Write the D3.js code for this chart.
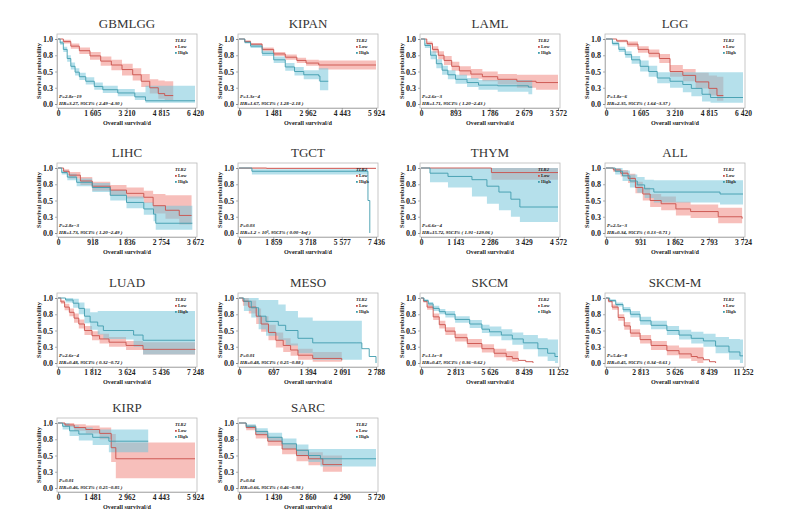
<!DOCTYPE html>
<html>
<head>
<meta charset="utf-8">
<script src="https://cdn.jsdelivr.net/npm/d3@7"></script>
<style>
  body { margin: 0; background: #fff; }
  text { font-family: "Liberation Serif", "DejaVu Serif", serif; }
</style>
</head>
<body>
<svg id="chart"></svg>
<script>
// cohorts, in reading order
const cancers = ["GBMLGG", "KIPAN", "LAML", "LGG", "LIHC", "TGCT", "THYM", "ALL",
                 "LUAD", "MESO", "SKCM", "SKCM-M", "KIRP", "SARC"];
const xMaxDays = [6420, 5924, 3572, 6420, 3672, 7436, 4572, 3724, 7248, 2788, 11252, 11252, 5924, 5720];
const pLabels = ["P=2.8e−19", "P=1.3e−4", "P=2.6e−3", "P=1.8e−6", "P=2.8e−3", "P=0.03", "P=6.6e−4",
                 "P=2.5e−3", "P=2.6e−4", "P=0.01", "P=1.1e−8", "P=5.4e−8", "P=0.01", "P=0.04"];
const hrLabels = [
  "HR=3.27, 95CI% ( 2.49−4.30 )", "HR=1.67, 95CI% ( 1.28−2.18 )", "HR=1.71, 95CI% ( 1.20−2.43 )",
  "HR=2.35, 95CI% ( 1.64−3.37 )", "HR=1.73, 95CI% ( 1.20−2.49 )", "HR=1.2 × 10⁹, 95CI% ( 0.00−Inf )",
  "HR=15.72, 95CI% ( 1.91−129.06 )", "HR=0.34, 95CI% ( 0.13−0.71 )", "HR=0.48, 95CI% ( 0.32−0.72 )",
  "HR=0.48, 95CI% ( 0.25−0.88 )", "HR=0.47, 95CI% ( 0.36−0.62 )", "HR=0.45, 95CI% ( 0.34−0.61 )",
  "HR=0.46, 95CI% ( 0.25−0.85 )", "HR=0.66, 95CI% ( 0.46−0.98 )"];
const groups = ["Low", "High"];
const yTickValues = [0, 0.25, 0.5, 0.75, 1];
const yTickLabels = ["0.0", "0.3", "0.5", "0.8", "1.0"];

// [day, survival, lower 95%, upper 95%]
const lowCurves = [
  [[0,1,1,1],[250,0.96,0.93,0.99],[600,0.89,0.85,0.93],[1000,0.82,0.77,0.87],[1500,0.74,0.68,0.8],[2000,0.66,0.59,0.73],[2500,0.6,0.52,0.68],[3000,0.53,0.44,0.62],[3500,0.45,0.36,0.55],[3900,0.35,0.26,0.46],[4300,0.25,0.16,0.38],[4700,0.16,0.08,0.36],[5000,0.13,0.06,0.35],[5400,0.13,0.06,0.35]],
  [[0,1,1,1],[250,0.96,0.94,0.98],[500,0.92,0.9,0.94],[1000,0.84,0.81,0.87],[1500,0.77,0.74,0.8],[2000,0.72,0.68,0.76],[2500,0.67,0.63,0.71],[2900,0.63,0.59,0.68],[3450,0.6,0.53,0.67],[5924,0.6,0.53,0.67]],
  [[0,1,1,1],[150,0.93,0.9,0.96],[300,0.84,0.79,0.89],[450,0.75,0.69,0.81],[600,0.67,0.6,0.74],[800,0.58,0.51,0.65],[1000,0.51,0.44,0.58],[1300,0.46,0.39,0.54],[1600,0.42,0.35,0.5],[2000,0.38,0.3,0.46],[2500,0.35,0.25,0.45],[3000,0.33,0.22,0.45],[3572,0.33,0.22,0.45]],
  [[0,1,1,1],[500,0.97,0.95,0.99],[1000,0.92,0.88,0.96],[1500,0.84,0.79,0.89],[2000,0.78,0.72,0.84],[2500,0.7,0.63,0.77],[3000,0.5,0.42,0.6],[3600,0.44,0.35,0.54],[4200,0.34,0.24,0.48],[4815,0.24,0.13,0.44],[5200,0.13,0.05,0.42],[5500,0.13,0.05,0.42]],
  [[0,1,1,1],[150,0.95,0.92,0.98],[300,0.89,0.84,0.94],[600,0.8,0.74,0.86],[918,0.72,0.65,0.79],[1400,0.66,0.58,0.74],[1836,0.61,0.53,0.7],[2300,0.55,0.46,0.65],[2550,0.42,0.3,0.6],[2880,0.35,0.22,0.58],[3250,0.27,0.13,0.58],[3580,0.27,0.13,0.58]],
  [[0,1,0.99,1],[1500,0.995,0.985,1],[7436,0.995,0.985,1]],
  [[0,1,1,1],[2350,0.93,0.82,1],[4572,0.93,0.82,1]],
  [[0,1,1,1],[200,0.97,0.94,1],[400,0.92,0.87,0.97],[600,0.84,0.77,0.91],[800,0.7,0.61,0.79],[1000,0.6,0.5,0.7],[1200,0.5,0.4,0.6],[1500,0.45,0.35,0.56],[1900,0.37,0.27,0.48],[2300,0.33,0.23,0.44],[3050,0.25,0.15,0.39],[3700,0.22,0.12,0.39]],
  [[0,1,1,1],[150,0.94,0.91,0.97],[350,0.86,0.81,0.91],[600,0.78,0.72,0.84],[850,0.69,0.62,0.76],[1100,0.6,0.53,0.67],[1400,0.5,0.43,0.57],[1800,0.42,0.35,0.49],[2200,0.37,0.3,0.45],[2700,0.32,0.25,0.4],[3600,0.27,0.2,0.34],[4500,0.21,0.13,0.32],[7248,0.2,0.13,0.32]],
  [[0,1,1,1],[80,0.95,0.88,1],[200,0.86,0.76,0.96],[350,0.72,0.6,0.84],[450,0.6,0.48,0.72],[600,0.47,0.35,0.59],[750,0.35,0.24,0.47],[900,0.27,0.17,0.38],[1050,0.2,0.11,0.3],[1200,0.12,0.05,0.22],[1500,0.07,0.02,0.17],[2091,0.04,0.01,0.14]],
  [[0,1,1,1],[200,0.95,0.93,0.97],[500,0.86,0.82,0.9],[1000,0.71,0.66,0.76],[1500,0.59,0.53,0.65],[2000,0.49,0.43,0.55],[2800,0.39,0.33,0.45],[3800,0.3,0.24,0.37],[5000,0.22,0.16,0.29],[6000,0.15,0.09,0.22],[7000,0.1,0.04,0.18],[7500,0.07,0.02,0.18],[8000,0.04,0.04,0.04],[8600,0.02,0.02,0.02],[9200,0,0,0]],
  [[0,1,1,1],[200,0.95,0.93,0.97],[500,0.86,0.82,0.9],[1000,0.7,0.65,0.75],[1500,0.57,0.51,0.63],[2000,0.46,0.4,0.52],[2800,0.36,0.3,0.43],[3700,0.27,0.2,0.34],[5000,0.19,0.12,0.27],[6000,0.14,0.07,0.24],[7000,0.1,0.03,0.24],[7500,0.08,0,0.24],[8000,0.05,0.05,0.05],[8500,0.02,0.02,0.02],[9000,0,0,0]],
  [[0,1,1,1],[300,0.97,0.94,1],[700,0.93,0.88,0.98],[1200,0.9,0.84,0.96],[1800,0.84,0.75,0.93],[2300,0.62,0.4,0.83],[2500,0.45,0.15,0.7],[5924,0.45,0.15,0.7]],
  [[0,1,1,1],[300,0.93,0.89,0.97],[700,0.82,0.76,0.88],[1200,0.72,0.65,0.79],[1800,0.6,0.52,0.68],[2400,0.5,0.41,0.6],[2900,0.45,0.35,0.55],[3500,0.36,0.25,0.5],[4300,0.36,0.25,0.5]]
];
const highCurves = [
  [[0,1,1,1],[100,0.94,0.91,0.97],[250,0.84,0.8,0.88],[430,0.7,0.65,0.75],[600,0.58,0.53,0.64],[800,0.49,0.44,0.55],[1000,0.42,0.37,0.48],[1300,0.35,0.3,0.41],[1700,0.27,0.22,0.33],[2100,0.22,0.17,0.28],[2800,0.17,0.12,0.23],[3600,0.11,0.06,0.18],[4100,0.05,0.02,0.28],[6420,0.05,0.02,0.28]],
  [[0,1,1,1],[250,0.95,0.93,0.97],[500,0.89,0.86,0.92],[1000,0.78,0.74,0.82],[1500,0.68,0.63,0.73],[2000,0.57,0.51,0.63],[2400,0.5,0.44,0.57],[2800,0.45,0.38,0.52],[3450,0.43,0.35,0.55],[3500,0.35,0.21,0.55],[3860,0.35,0.21,0.55]],
  [[0,1,1,1],[100,0.9,0.86,0.94],[250,0.75,0.69,0.81],[400,0.62,0.55,0.69],[550,0.52,0.45,0.59],[700,0.45,0.38,0.52],[900,0.38,0.31,0.45],[1200,0.33,0.26,0.4],[1500,0.29,0.22,0.37],[2000,0.28,0.19,0.37],[2800,0.26,0.15,0.37],[2900,0.26,0.15,0.37]],
  [[0,1,1,1],[300,0.93,0.9,0.96],[600,0.84,0.8,0.88],[900,0.76,0.71,0.81],[1200,0.68,0.62,0.74],[1600,0.58,0.5,0.67],[2000,0.5,0.42,0.59],[2400,0.4,0.32,0.49],[3000,0.35,0.25,0.49],[3600,0.3,0.18,0.49],[4000,0.24,0.12,0.49],[4500,0.15,0.04,0.49],[4900,0.1,0.02,0.49],[6420,0.1,0.02,0.49]],
  [[0,1,1,1],[100,0.93,0.9,0.96],[250,0.86,0.81,0.91],[500,0.78,0.72,0.84],[918,0.7,0.63,0.77],[1400,0.58,0.5,0.66],[1836,0.47,0.38,0.56],[2300,0.37,0.28,0.47],[2560,0.29,0.18,0.42],[2620,0.15,0.05,0.42],[3600,0.15,0.05,0.42]],
  [[0,1,1,1],[700,0.95,0.9,0.98],[6900,0.95,0.9,0.98],[7000,0.5,0.5,0.5],[7100,0,0,0]],
  [[0,1,1,1],[300,0.92,0.78,1],[900,0.87,0.7,1],[1700,0.82,0.56,1],[2200,0.72,0.45,1],[2600,0.63,0.35,1],[3000,0.52,0.25,1],[3300,0.4,0.17,1],[4572,0.4,0.17,1]],
  [[0,1,1,1],[250,0.95,0.9,1],[450,0.88,0.8,0.96],[650,0.8,0.7,0.9],[850,0.74,0.62,0.86],[1050,0.68,0.54,0.82],[1300,0.63,0.47,0.81],[3100,0.6,0.44,0.81],[3724,0.6,0.44,0.81]],
  [[0,1,1,1],[400,0.97,0.93,1],[800,0.92,0.85,0.99],[1100,0.84,0.75,0.93],[1400,0.72,0.61,0.84],[1700,0.63,0.51,0.78],[2100,0.57,0.44,0.8],[2400,0.5,0.37,0.8],[3600,0.5,0.36,0.8],[4000,0.43,0.25,0.8],[4500,0.35,0.13,0.8],[7248,0.35,0.13,0.8]],
  [[0,1,1,1],[100,0.95,0.8,1],[250,0.85,0.7,1],[400,0.72,0.52,0.97],[550,0.64,0.42,0.97],[800,0.58,0.35,0.9],[950,0.5,0.27,0.8],[1200,0.38,0.15,0.7],[1500,0.31,0.05,0.65],[2400,0.31,0.05,0.65],[2500,0.22,0.22,0.22],[2650,0.1,0.1,0.1],[2788,0,0,0]],
  [[0,1,1,1],[250,0.96,0.94,0.98],[600,0.91,0.88,0.94],[1000,0.84,0.8,0.88],[1500,0.79,0.75,0.83],[2000,0.75,0.7,0.8],[2800,0.67,0.62,0.72],[4000,0.6,0.54,0.66],[5000,0.52,0.46,0.59],[5626,0.48,0.41,0.56],[6600,0.43,0.35,0.52],[7500,0.37,0.28,0.47],[8400,0.31,0.21,0.43],[9600,0.22,0.1,0.38],[10400,0.15,0.03,0.36],[11000,0.1,0,0.36],[11252,0.1,0,0.36]],
  [[0,1,1,1],[300,0.96,0.94,0.98],[800,0.9,0.87,0.93],[1400,0.82,0.78,0.86],[2000,0.75,0.7,0.8],[2800,0.65,0.59,0.71],[3700,0.58,0.52,0.65],[5000,0.5,0.43,0.57],[6000,0.43,0.36,0.51],[7000,0.38,0.3,0.48],[8000,0.34,0.25,0.45],[9000,0.26,0.15,0.4],[10100,0.17,0.05,0.37],[11000,0.11,0,0.36],[11252,0.11,0,0.36]],
  [[0,1,1,1],[200,0.95,0.9,1],[500,0.88,0.8,0.96],[900,0.83,0.73,0.93],[1500,0.78,0.66,0.9],[2200,0.72,0.55,0.9],[3900,0.72,0.55,0.9]],
  [[0,1,1,1],[300,0.95,0.92,0.98],[700,0.87,0.82,0.92],[1200,0.78,0.72,0.85],[1800,0.68,0.6,0.76],[2400,0.58,0.49,0.67],[2900,0.5,0.4,0.6],[3400,0.45,0.33,0.6],[5720,0.45,0.33,0.6]]
];

const lineColor = { Low: "#c9504b", High: "#3f9cae" };
const bandColor = { Low: "#f08a84", High: "#79c7da" };

class SurvivalPanel {
    constructor(_config, _data) {
        this.config = {
            parent: _config.parent,
            left: _config.left,
            top: _config.top,
            width: _config.width || 140,
            height: _config.height || 74
        };
        this.data = _data;
        this.initVis();
    }

    initVis() {
        let vis = this;
        const c = vis.config;
        vis.g = c.parent.append('g').attr('transform', `translate(${c.left},${c.top})`);

        vis.xScale = d3.scaleLinear().domain([0, vis.data.xMax]).range([1, c.width - 2]);
        vis.yScale = d3.scaleLinear().domain([0, 1]).range([c.height - 4, 5]);

        vis.xTicks = d3.range(5).map(k => vis.data.xMax * k / 4);
        vis.xAxis = d3.axisBottom(vis.xScale).tickValues(vis.xTicks).tickSize(2)
            .tickFormat(d => d3.format(',')(d).replace(/,/g, ' '));
        vis.yAxis = d3.axisLeft(vis.yScale).tickValues(yTickValues).tickSize(2)
            .tickFormat((d, i) => yTickLabels[i]);

        vis.line = d3.line().curve(d3.curveStepAfter)
            .x(d => vis.xScale(d[0])).y(d => vis.yScale(d[1]));
        vis.band = d3.area().curve(d3.curveStepAfter)
            .x(d => vis.xScale(d[0])).y0(d => vis.yScale(d[2])).y1(d => vis.yScale(d[3]));
        vis.renderVis();
    }

    renderVis() {
        let vis = this;
        const c = vis.config;

        vis.g.append('rect')
            .attr('width', c.width).attr('height', c.height)
            .attr('fill', '#fff').attr('stroke', '#b9b9b9').attr('stroke-width', 0.8);

        const series = [
            { key: 'Low', values: vis.data.low },
            { key: 'High', values: vis.data.high }
        ];

        vis.g.selectAll('.band').data(series).join('path')
            .attr('class', 'band')
            .attr('d', d => vis.band(d.values))
            .attr('fill', d => bandColor[d.key])
            .attr('fill-opacity', 0.55);

        vis.g.selectAll('.km').data(series).join('path')
            .attr('class', 'km')
            .attr('d', d => vis.line(d.values))
            .attr('fill', 'none')
            .attr('stroke', d => lineColor[d.key])
            .attr('stroke-width', 0.9);

        const xAxisG = vis.g.append('g').attr('transform', `translate(0,${c.height})`).call(vis.xAxis);
        xAxisG.selectAll('text').attr('font-size', 7.5).attr('font-weight', 'bold').attr('fill', '#222')
            .attr('font-family', '"Liberation Serif", serif').attr('dy', '0.72em').attr('y', 3);
        const yAxisG = vis.g.append('g').call(vis.yAxis);
        yAxisG.selectAll('text').attr('font-size', 8).attr('font-weight', 'bold').attr('fill', '#222')
            .attr('font-family', '"Liberation Serif", serif').attr('x', -4);
        [xAxisG, yAxisG].forEach(a => {
            a.select('.domain').attr('stroke', '#999').attr('stroke-width', 0.6);
            a.selectAll('.tick line').attr('stroke', '#666').attr('stroke-width', 0.5);
        });

        // title and axis titles
        vis.g.append('text')
            .attr('x', c.width / 2).attr('y', -6)
            .attr('text-anchor', 'middle').attr('font-size', 13).attr('fill', '#333')
            .text(vis.data.name);
        vis.g.append('text')
            .attr('x', c.width / 2).attr('y', c.height + 17)
            .attr('text-anchor', 'middle').attr('font-size', 6.2).attr('font-weight', 'bold').attr('fill', '#222')
            .text('Overall survival/d');
        vis.g.append('text')
            .attr('transform', `translate(-16,${c.height / 2}) rotate(-90)`)
            .attr('text-anchor', 'middle').attr('font-size', 6.5).attr('font-weight', 'bold').attr('fill', '#222')
            .text('Survival probability');

        // statistics
        vis.g.append('text')
            .attr('x', 2).attr('y', c.height - 10)
            .attr('font-size', 5).attr('font-weight', 'bold').attr('font-style', 'italic').attr('fill', '#111')
            .text(vis.data.p);
        vis.g.append('text')
            .attr('x', 2).attr('y', c.height - 3.5)
            .attr('font-size', 5).attr('font-weight', 'bold').attr('font-style', 'italic').attr('fill', '#111')
            .text(vis.data.hr);

        // legend
        const lg = vis.g.append('g').attr('transform', `translate(${c.width - 22},0)`);
        lg.append('text').attr('x', 0).attr('y', 8)
            .attr('font-size', 4.6).attr('font-weight', 'bold').attr('font-style', 'italic').attr('fill', '#222')
            .text('TLR2');
        groups.forEach((gname, i) => {
            lg.append('rect').attr('x', 0).attr('y', 12 + i * 6).attr('width', 1.8).attr('height', 1.8)
                .attr('fill', lineColor[gname]);
            lg.append('text').attr('x', 3).attr('y', 14 + i * 6)
                .attr('font-size', 4.6).attr('font-weight', 'bold').attr('fill', '#222')
                .text(gname);
        });
    }
}

const svg = d3.select('#chart').attr('width', 793).attr('height', 526);
svg.append('rect').attr('width', 793).attr('height', 526).attr('fill', '#fff');

const colLeft = [57, 238, 420, 605];
const rowTop = [34, 163, 293, 418];

cancers.forEach((name, i) => {
    new SurvivalPanel(
        { parent: svg, left: colLeft[i % 4], top: rowTop[Math.floor(i / 4)], width: 140, height: 74 },
        { name: name, xMax: xMaxDays[i], p: pLabels[i], hr: hrLabels[i], low: lowCurves[i], high: highCurves[i] }
    );
});
</script>
</body>
</html>
